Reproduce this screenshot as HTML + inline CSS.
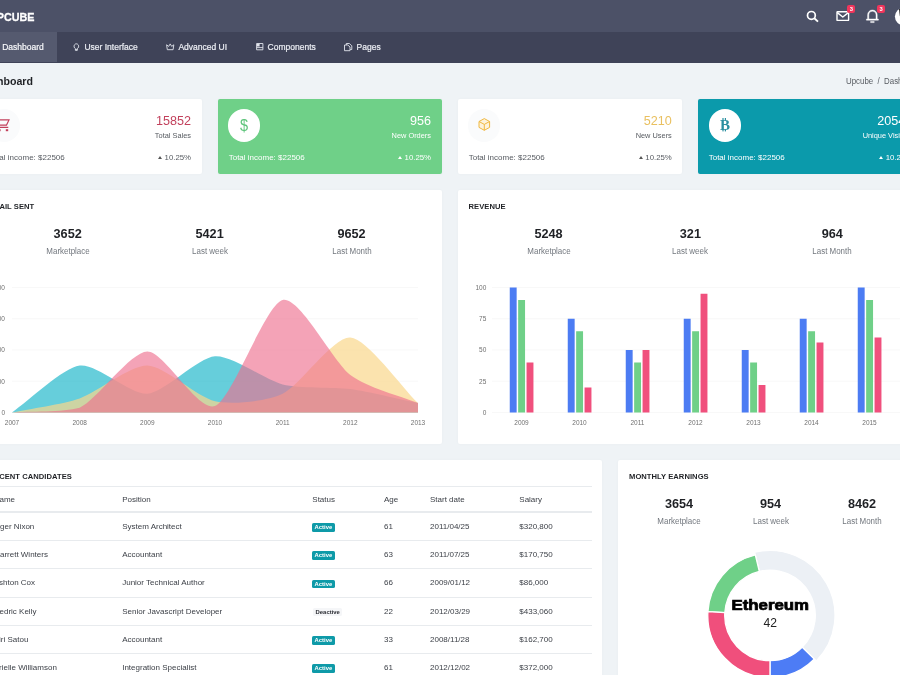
<!DOCTYPE html>
<html><head><meta charset="utf-8"><title>Upcube Dashboard</title>
<style>
*{box-sizing:border-box;margin:0;padding:0}
html,body{width:900px;height:675px;overflow:hidden;background:#eff3f6;font-family:"Liberation Sans",sans-serif;color:#505458}
#wrap{position:absolute;left:0;top:0;width:900px;height:675px;overflow:hidden}
.abs{position:absolute}
#top{left:0;top:0;width:900px;height:32px;background:#4c5167}
#nav{left:0;top:32px;width:900px;height:30.7px;background:#3f4358}
#nav .act{position:absolute;left:-40px;top:0;width:97px;height:30px;background:#555a6f}
.navi{position:absolute;top:0;height:30px;line-height:30px;font-size:8.5px;color:#eceef4;white-space:nowrap;-webkit-text-stroke:0.2px #eceef4}
.logo{position:absolute;left:-11px;top:8.6px;font-size:11.7px;font-weight:bold;color:#fff;line-height:16px;-webkit-text-stroke:0.3px #fff;transform:scaleX(0.92);transform-origin:0 0}
.card{position:absolute;background:#fff;border-radius:2px;box-shadow:0 0 3px rgba(0,0,0,0.03)}
.t{position:absolute;white-space:nowrap;line-height:1}
.r{text-align:right}
.c{text-align:center}
.num{font-size:12.6px}
.lbl{font-size:8px}
.lb2{font-size:7.4px}
.tri{display:inline-block;width:0;height:0;border-left:2.7px solid transparent;border-right:2.7px solid transparent;border-bottom:3px solid currentColor;margin-right:2.4px;position:relative;top:-1px}
.pc{font-size:7.8px}
.h{font-size:7.6px;font-weight:bold;color:#1f2125;letter-spacing:0.05px}
.big{font-size:12.7px;font-weight:bold;color:#1f2125}
.sub{font-size:8.4px;color:#72777e;transform:scaleX(0.95)}
.td{font-size:8px;color:#3d4148}
.ln{position:absolute;left:-12px;width:604px;background:#e8ebee}
.bdg{position:absolute;height:8.6px;line-height:8.6px;font-size:5.9px;font-weight:bold;border-radius:1.6px;padding:0 2.6px;white-space:nowrap}
.bdg.on{background:#0e9aa8;color:#fff}
.bdg.off{background:#f5f6f8;color:#2b2d33}
.circ{position:absolute;width:32.6px;height:32.6px;border-radius:50%;background:#fff}
.nb{position:absolute;width:8px;height:8.6px;border-radius:2px;background:#f0365c;color:#fff;font-size:5.8px;font-weight:bold;text-align:center;line-height:8.6px}
svg{position:absolute;left:0;top:0;overflow:visible}
svg text{font-family:"Liberation Sans",sans-serif}
</style></head><body><div id="wrap">
<div id="top" class="abs">
  <div class="logo">UPCUBE</div>
  <svg width="900" height="32" viewBox="0 0 900 32">
    <g fill="none" stroke="#fff"><circle cx="811.4" cy="15.4" r="3.9" stroke-width="1.7"/><path d="M814.3,18.2 L818,21.6" stroke-width="1.9"/></g>
    <g fill="none" stroke="#fff" stroke-width="1.4" stroke-linejoin="round"><rect x="837" y="11.8" width="11.6" height="8.6" rx="0.5"/><path d="M837.3,12.6 L842.8,17 L848.3,12.6"/></g>
    <g transform="translate(865.2,8.8) scale(0.6)" fill="#fff" stroke="#fff" stroke-width="0.7"><path d="M20 17h2v2H2v-2h2v-7a8 8 0 1 1 16 0v7zm-2 0v-7a6 6 0 1 0-12 0v7h12zm-9 4h6v2H9v-2z"/></g>
    <circle cx="903.6" cy="16.6" r="8.7" fill="#fff"/>
    <path d="M899,9 l2,0 l0,8 l-1.2,-1z" fill="#222"/>
  </svg>
  <div class="nb" style="left:847.3px;top:4.9px">3</div>
  <div class="nb" style="left:877.1px;top:4.9px">3</div>
</div>
<div id="nav" class="abs">
  <div class="act"></div>
  <div class="navi" style="left:2.2px;color:#fff">Dashboard</div>
  <div class="navi" style="left:84.4px">User Interface</div>
  <div class="navi" style="left:178.4px">Advanced UI</div>
  <div class="navi" style="left:267.6px">Components</div>
  <div class="navi" style="left:356.6px">Pages</div>
  <svg width="900" height="30" viewBox="0 32 900 30" fill="none" stroke="#e1e4ec" stroke-width="0.9">
    <!-- bulb -->
    <path d="M75.4,48.6 a2.3,2.5 0 1 1 1.9,0 v1.8 h-1.9z M75.4,49.4 h1.9"/>
    <!-- crown -->
    <path d="M166.6,44.8 l2.1,1.6 l1.5,-2.5 l1.5,2.5 l2.1,-1.6 l-0.7,4.9 h-5.8z" stroke-linejoin="round"/>
    <!-- components -->
    <path d="M256.6,43.5 h6.3 v6.3 h-6.3z M256.6,47.6 h6.3"/>
    <rect x="257" y="43.9" width="2.6" height="2.6" fill="#e1e4ec" stroke="none"/>
    <!-- pages -->
    <path d="M346.3,45 v-1.5 h3 l2.5,2.3 v3.7 h-1.6 M344.5,45 h3.3 l2.2,2 v3.7 h-5.5z" stroke-linejoin="round"/>
  </svg>
</div>
<div class="t" style="left:-22.4px;top:76.2px;font-size:10.6px;font-weight:bold;color:#1f2125">Dashboard</div>
<div class="t" style="left:845.6px;top:76.9px;font-size:8.4px;color:#575b61;transform:scaleX(0.94);transform-origin:0 0">Upcube &nbsp;/&nbsp; Dashboard</div>

<!-- stat cards -->
<div class="card" style="left:-22px;top:99px;width:224px;height:74.5px">
  <div class="circ" style="left:9.8px;top:10px;background:#fafbfc"></div>
  <div class="t r num" style="right:11px;top:15.6px;color:#c2415c">15852</div>
  <div class="t r lb2" style="right:11px;top:33.2px;color:#575b61">Total Sales</div>
  <div class="t lbl" style="left:10.7px;top:54.6px;color:#575b61">Total income: $22506</div>
  <div class="t r lbl pc" style="right:11px;top:54.6px;color:#575b61"><span class="tri" style="color:#555"></span>10.25%</div>
</div>
<div class="card" style="left:218px;top:99px;width:224px;height:74.5px;background:#6fd088">
  <div class="circ" style="left:9.8px;top:10px"></div>
  <div class="t c" style="left:9.8px;top:17.6px;width:32px;font-size:15px;color:#5fc57c;transform:scale(0.97,1.12)">$</div>
  <div class="t r num" style="right:11px;top:15.6px;color:#fff">956</div>
  <div class="t r lb2" style="right:11px;top:33.2px;color:#fff">New Orders</div>
  <div class="t lbl" style="left:10.7px;top:54.6px;color:#fff">Total income: $22506</div>
  <div class="t r lbl pc" style="right:11px;top:54.6px;color:#fff"><span class="tri"></span>10.25%</div>
</div>
<div class="card" style="left:458px;top:99px;width:224px;height:74.5px">
  <div class="circ" style="left:9.8px;top:10px;background:#fafbfc"></div>
  <div class="t r num" style="right:10.2px;top:15.6px;color:#e9c060">5210</div>
  <div class="t r lb2" style="right:10.2px;top:33.2px;color:#575b61">New Users</div>
  <div class="t lbl" style="left:10.7px;top:54.6px;color:#575b61">Total income: $22506</div>
  <div class="t r lbl pc" style="right:10.2px;top:54.6px;color:#575b61"><span class="tri" style="color:#555"></span>10.25%</div>
</div>
<div class="card" style="left:698px;top:99px;width:224px;height:74.5px;background:#0b9aab">
  <div class="circ" style="left:10.5px;top:10.2px"></div>
  <div class="t r num" style="right:9.8px;top:15.6px;color:#fff">20544</div>
  <div class="t r lb2" style="right:9.8px;top:33.2px;color:#fff">Unique Visitors</div>
  <div class="t lbl" style="left:10.7px;top:54.6px;color:#fff">Total income: $22506</div>
  <div class="t r lbl pc" style="right:9.8px;top:54.6px;color:#fff"><span class="tri"></span>10.25%</div>
</div>
<svg width="900" height="675" viewBox="0 0 900 675">
  <!-- cart -->
  <g fill="none" stroke="#c2415c" stroke-width="1.15">
    <path d="M-3,119.9 h12 l-2.5,5.2 h-9.5 M-4,127.4 h12.3"/>
  </g>
  <rect x="-1.6" y="129.2" width="2.2" height="2" fill="#c2415c"/><rect x="5.8" y="129.2" width="2.4" height="2" fill="#c2415c"/>
  <!-- cube -->
  <g fill="#fdf3dc" stroke="#f0b840" stroke-width="1" stroke-linejoin="round">
    <path d="M484.3,118.6 l5.3,2.9 v5.9 l-5.3,2.9 l-5.3,-2.9 v-5.9z"/>
    <path d="M479,121.5 l5.3,2.9 l5.3,-2.9 M484.3,124.4 v5.9" fill="none"/>
  </g>
  <!-- bitcoin -->
  <g fill="#2a8fa0">
    <rect x="722.4" y="118" width="1.2" height="2.2"/><rect x="724.8" y="118" width="1.2" height="2.2"/>
    <rect x="722.4" y="129.2" width="1.2" height="2.2"/><rect x="724.8" y="129.2" width="1.2" height="2.2"/>
  </g>
  <text x="724.9" y="129.7" text-anchor="middle" font-weight="bold" font-size="15" fill="#2a8fa0" style="font-family:'Liberation Serif',serif">B</text>
</svg>

<!-- charts -->
<div class="card" style="left:-22px;top:190px;width:464px;height:254px"></div>
<div class="card" style="left:458px;top:190px;width:464px;height:254px"></div>
<div class="t h" style="left:-12.1px;top:202.6px">EMAIL SENT</div>
<div class="t h" style="left:468.5px;top:202.8px">REVENUE</div>
<div class="t c big" style="left:7.7px;top:228.3px;width:120px">3652</div><div class="t c sub" style="left:7.7px;top:247.4px;width:120px">Marketplace</div><div class="t c big" style="left:149.6px;top:228.3px;width:120px">5421</div><div class="t c sub" style="left:149.6px;top:247.4px;width:120px">Last week</div><div class="t c big" style="left:291.5px;top:228.3px;width:120px">9652</div><div class="t c sub" style="left:291.5px;top:247.4px;width:120px">Last Month</div>
<div class="t c big" style="left:488.5px;top:228.3px;width:120px">5248</div><div class="t c sub" style="left:488.5px;top:247.4px;width:120px">Marketplace</div><div class="t c big" style="left:630.4px;top:228.3px;width:120px">321</div><div class="t c sub" style="left:630.4px;top:247.4px;width:120px">Last week</div><div class="t c big" style="left:772.3px;top:228.3px;width:120px">964</div><div class="t c sub" style="left:772.3px;top:247.4px;width:120px">Last Month</div>
<svg width="900" height="675" viewBox="0 0 900 675">
<line x1="12.0" x2="418.0" y1="412.50" y2="412.50" stroke="#f4f4f4" stroke-width="0.6"/>
<text x="5" y="414.80" text-anchor="end" font-size="6.5" fill="#707070">0</text>
<line x1="12.0" x2="418.0" y1="381.25" y2="381.25" stroke="#f4f4f4" stroke-width="0.6"/>
<text x="5" y="383.55" text-anchor="end" font-size="6.5" fill="#707070">100</text>
<line x1="12.0" x2="418.0" y1="350.00" y2="350.00" stroke="#f4f4f4" stroke-width="0.6"/>
<text x="5" y="352.30" text-anchor="end" font-size="6.5" fill="#707070">200</text>
<line x1="12.0" x2="418.0" y1="318.75" y2="318.75" stroke="#f4f4f4" stroke-width="0.6"/>
<text x="5" y="321.05" text-anchor="end" font-size="6.5" fill="#707070">300</text>
<line x1="12.0" x2="418.0" y1="287.50" y2="287.50" stroke="#f4f4f4" stroke-width="0.6"/>
<text x="5" y="289.80" text-anchor="end" font-size="6.5" fill="#707070">400</text>
<path d="M12.00,412.50C28.92,400.78,62.75,367.97,79.67,365.62C96.58,363.28,130.42,394.92,147.33,393.75C164.25,392.58,198.08,357.42,215.00,356.25C231.92,355.08,265.75,380.27,282.67,384.38C299.58,388.48,333.42,386.72,350.33,389.06C367.25,391.41,401.08,399.61,418.00,403.12L418.00,412.50L12.00,412.50Z" fill="rgba(0,173,195,0.6)"/>
<path d="M12.00,412.50C28.92,408.98,62.75,404.30,79.67,398.44C96.58,392.58,130.42,365.27,147.33,365.62C164.25,365.98,198.08,397.73,215.00,401.25C231.92,404.77,265.75,401.72,282.67,393.75C299.58,385.78,333.42,336.33,350.33,337.50C367.25,338.67,401.08,386.72,418.00,403.12L418.00,412.50L12.00,412.50Z" fill="rgba(250,215,140,0.7)"/>
<path d="M12.00,412.50C28.92,411.33,62.75,412.50,79.67,407.81C96.58,400.20,130.42,351.80,147.33,351.56C164.25,351.33,198.08,412.38,215.00,405.94C231.92,399.49,265.75,303.87,282.67,300.00C299.58,296.13,333.42,362.11,350.33,375.00C367.25,387.89,401.08,396.09,418.00,403.12L418.00,412.50L12.00,412.50Z" fill="rgba(238,111,142,0.64)"/>
<text x="12.00" y="425.3" text-anchor="middle" font-size="6.5" fill="#707070">2007</text>
<text x="79.67" y="425.3" text-anchor="middle" font-size="6.5" fill="#707070">2008</text>
<text x="147.33" y="425.3" text-anchor="middle" font-size="6.5" fill="#707070">2009</text>
<text x="215.00" y="425.3" text-anchor="middle" font-size="6.5" fill="#707070">2010</text>
<text x="282.67" y="425.3" text-anchor="middle" font-size="6.5" fill="#707070">2011</text>
<text x="350.33" y="425.3" text-anchor="middle" font-size="6.5" fill="#707070">2012</text>
<text x="418.00" y="425.3" text-anchor="middle" font-size="6.5" fill="#707070">2013</text>
<line x1="492" x2="930" y1="412.50" y2="412.50" stroke="#f4f4f4" stroke-width="0.6"/>
<text x="486.3" y="414.80" text-anchor="end" font-size="6.5" fill="#707070">0</text>
<line x1="492" x2="930" y1="381.25" y2="381.25" stroke="#f4f4f4" stroke-width="0.6"/>
<text x="486.3" y="383.55" text-anchor="end" font-size="6.5" fill="#707070">25</text>
<line x1="492" x2="930" y1="350.00" y2="350.00" stroke="#f4f4f4" stroke-width="0.6"/>
<text x="486.3" y="352.30" text-anchor="end" font-size="6.5" fill="#707070">50</text>
<line x1="492" x2="930" y1="318.75" y2="318.75" stroke="#f4f4f4" stroke-width="0.6"/>
<text x="486.3" y="321.05" text-anchor="end" font-size="6.5" fill="#707070">75</text>
<line x1="492" x2="930" y1="287.50" y2="287.50" stroke="#f4f4f4" stroke-width="0.6"/>
<text x="486.3" y="289.80" text-anchor="end" font-size="6.5" fill="#707070">100</text>
<rect x="509.75" y="287.50" width="6.9" height="125.00" fill="#4c7cf3"/>
<rect x="518.15" y="300.00" width="6.9" height="112.50" fill="#6fd088"/>
<rect x="526.55" y="362.50" width="6.9" height="50.00" fill="#f0507d"/>
<text x="521.50" y="425.3" text-anchor="middle" font-size="6.5" fill="#707070">2009</text>
<rect x="567.75" y="318.75" width="6.9" height="93.75" fill="#4c7cf3"/>
<rect x="576.15" y="331.25" width="6.9" height="81.25" fill="#6fd088"/>
<rect x="584.55" y="387.50" width="6.9" height="25.00" fill="#f0507d"/>
<text x="579.50" y="425.3" text-anchor="middle" font-size="6.5" fill="#707070">2010</text>
<rect x="625.75" y="350.00" width="6.9" height="62.50" fill="#4c7cf3"/>
<rect x="634.15" y="362.50" width="6.9" height="50.00" fill="#6fd088"/>
<rect x="642.55" y="350.00" width="6.9" height="62.50" fill="#f0507d"/>
<text x="637.50" y="425.3" text-anchor="middle" font-size="6.5" fill="#707070">2011</text>
<rect x="683.75" y="318.75" width="6.9" height="93.75" fill="#4c7cf3"/>
<rect x="692.15" y="331.25" width="6.9" height="81.25" fill="#6fd088"/>
<rect x="700.55" y="293.75" width="6.9" height="118.75" fill="#f0507d"/>
<text x="695.50" y="425.3" text-anchor="middle" font-size="6.5" fill="#707070">2012</text>
<rect x="741.75" y="350.00" width="6.9" height="62.50" fill="#4c7cf3"/>
<rect x="750.15" y="362.50" width="6.9" height="50.00" fill="#6fd088"/>
<rect x="758.55" y="385.00" width="6.9" height="27.50" fill="#f0507d"/>
<text x="753.50" y="425.3" text-anchor="middle" font-size="6.5" fill="#707070">2013</text>
<rect x="799.75" y="318.75" width="6.9" height="93.75" fill="#4c7cf3"/>
<rect x="808.15" y="331.25" width="6.9" height="81.25" fill="#6fd088"/>
<rect x="816.55" y="342.50" width="6.9" height="70.00" fill="#f0507d"/>
<text x="811.50" y="425.3" text-anchor="middle" font-size="6.5" fill="#707070">2014</text>
<rect x="857.75" y="287.50" width="6.9" height="125.00" fill="#4c7cf3"/>
<rect x="866.15" y="300.00" width="6.9" height="112.50" fill="#6fd088"/>
<rect x="874.55" y="337.50" width="6.9" height="75.00" fill="#f0507d"/>
<text x="869.50" y="425.3" text-anchor="middle" font-size="6.5" fill="#707070">2015</text>
<rect x="915.75" y="318.75" width="6.9" height="93.75" fill="#4c7cf3"/>
<rect x="924.15" y="331.25" width="6.9" height="81.25" fill="#6fd088"/>
<rect x="932.55" y="362.50" width="6.9" height="50.00" fill="#f0507d"/>
<text x="927.50" y="425.3" text-anchor="middle" font-size="6.5" fill="#707070">2016</text>
</svg>

<!-- bottom -->
<div class="card" style="left:-22px;top:460px;width:624px;height:260px"></div>
<div class="card" style="left:618px;top:460px;width:304px;height:260px"></div>
<div class="t h" style="left:-11.5px;top:472.9px">RECENT CANDIDATES</div>
<div class="t h" style="left:629px;top:472.9px">MONTHLY EARNINGS</div>
<div class="ln" style="top:486px;height:0.7px"></div>
<div class="ln" style="top:511.3px;height:1.3px"></div>
<div class="t td" style="left:-6.3px;top:495.9px">Name</div><div class="t td" style="left:122.2px;top:495.9px">Position</div><div class="t td" style="left:312.3px;top:495.9px">Status</div><div class="t td" style="left:384.0px;top:495.9px">Age</div><div class="t td" style="left:430.0px;top:495.9px">Start date</div><div class="t td" style="left:519.3px;top:495.9px">Salary</div>
<div class="t td" style="left:-6.3px;top:522.9px">Tiger Nixon</div><div class="t td" style="left:122.2px;top:522.9px">System Architect</div><div class="bdg on" style="left:312.0px;top:523.1px">Active</div><div class="t td" style="left:384.0px;top:522.9px">61</div><div class="t td" style="left:430.0px;top:522.9px">2011/04/25</div><div class="t td" style="left:519.3px;top:522.9px">$320,800</div>
<div class="ln" style="top:539.65px;height:0.7px"></div>
<div class="t td" style="left:-6.3px;top:551.1px">Garrett Winters</div><div class="t td" style="left:122.2px;top:551.1px">Accountant</div><div class="bdg on" style="left:312.0px;top:551.4px">Active</div><div class="t td" style="left:384.0px;top:551.1px">63</div><div class="t td" style="left:430.0px;top:551.1px">2011/07/25</div><div class="t td" style="left:519.3px;top:551.1px">$170,750</div>
<div class="ln" style="top:567.90px;height:0.7px"></div>
<div class="t td" style="left:-6.3px;top:579.4px">Ashton Cox</div><div class="t td" style="left:122.2px;top:579.4px">Junior Technical Author</div><div class="bdg on" style="left:312.0px;top:579.6px">Active</div><div class="t td" style="left:384.0px;top:579.4px">66</div><div class="t td" style="left:430.0px;top:579.4px">2009/01/12</div><div class="t td" style="left:519.3px;top:579.4px">$86,000</div>
<div class="ln" style="top:596.65px;height:0.7px"></div>
<div class="t td" style="left:-6.3px;top:607.6px">Cedric Kelly</div><div class="t td" style="left:122.2px;top:607.6px">Senior Javascript Developer</div><div class="bdg off" style="left:313.0px;top:607.9px">Deactive</div><div class="t td" style="left:384.0px;top:607.6px">22</div><div class="t td" style="left:430.0px;top:607.6px">2012/03/29</div><div class="t td" style="left:519.3px;top:607.6px">$433,060</div>
<div class="ln" style="top:624.85px;height:0.7px"></div>
<div class="t td" style="left:-6.3px;top:635.9px">Airi Satou</div><div class="t td" style="left:122.2px;top:635.9px">Accountant</div><div class="bdg on" style="left:312.0px;top:636.1px">Active</div><div class="t td" style="left:384.0px;top:635.9px">33</div><div class="t td" style="left:430.0px;top:635.9px">2008/11/28</div><div class="t td" style="left:519.3px;top:635.9px">$162,700</div>
<div class="ln" style="top:652.65px;height:0.7px"></div>
<div class="t td" style="left:-6.3px;top:664.1px">Brielle Williamson</div><div class="t td" style="left:122.2px;top:664.1px">Integration Specialist</div><div class="bdg on" style="left:312.0px;top:664.4px">Active</div><div class="t td" style="left:384.0px;top:664.1px">61</div><div class="t td" style="left:430.0px;top:664.1px">2012/12/02</div><div class="t td" style="left:519.3px;top:664.1px">$372,000</div>
<div class="ln" style="top:680.95px;height:0.7px"></div>
<div class="t td" style="left:-6.3px;top:692.4px">Herrod Chandler</div><div class="t td" style="left:122.2px;top:692.4px">Sales Assistant</div><div class="bdg on" style="left:312.0px;top:692.6px">Active</div><div class="t td" style="left:384.0px;top:692.4px">59</div><div class="t td" style="left:430.0px;top:692.4px">2012/08/06</div><div class="t td" style="left:519.3px;top:692.4px">$137,500</div>
<div class="ln" style="top:709.15px;height:0.7px"></div>
<div class="t c big" style="left:619.0px;top:498.3px;width:120px">3654</div><div class="t c sub" style="left:619.0px;top:517.4px;width:120px">Marketplace</div><div class="t c big" style="left:710.5px;top:498.3px;width:120px">954</div><div class="t c sub" style="left:710.5px;top:517.4px;width:120px">Last week</div><div class="t c big" style="left:802.0px;top:498.3px;width:120px">8462</div><div class="t c sub" style="left:802.0px;top:517.4px;width:120px">Last Month</div>
<svg width="900" height="675" viewBox="0 0 900 675">
<path d="M770.00,660.70A45.30,45.30,0,0,0,802.32,647.14L814.38,658.98A62.20,62.20,0,0,1,770.00,677.60Z" fill="#4d7cf5" stroke="#fff" stroke-width="1.3"/>
<path d="M802.32,647.14A45.30,45.30,0,0,0,759.29,571.38L754.63,552.24A65.00,65.00,0,0,1,816.38,660.94Z" fill="#ecf0f5" stroke="#fff" stroke-width="1.3"/>
<path d="M759.29,571.38A45.30,45.30,0,0,0,724.78,612.69L707.91,611.67A62.20,62.20,0,0,1,755.30,554.96Z" fill="#6fd088" stroke="#fff" stroke-width="1.3"/>
<path d="M724.78,612.69A45.30,45.30,0,0,0,769.99,660.70L769.98,677.60A62.20,62.20,0,0,1,707.91,611.67Z" fill="#f04f7c" stroke="#fff" stroke-width="1.3"/>
<text x="770.3" y="609.6" text-anchor="middle" font-size="14.2" font-weight="bold" fill="#000" stroke="#000" stroke-width="0.7" textLength="77.5" lengthAdjust="spacingAndGlyphs">Ethereum</text>
<text x="770.3" y="627.3" text-anchor="middle" font-size="12.1" fill="#222">42</text>
</svg>
</div></body></html>
